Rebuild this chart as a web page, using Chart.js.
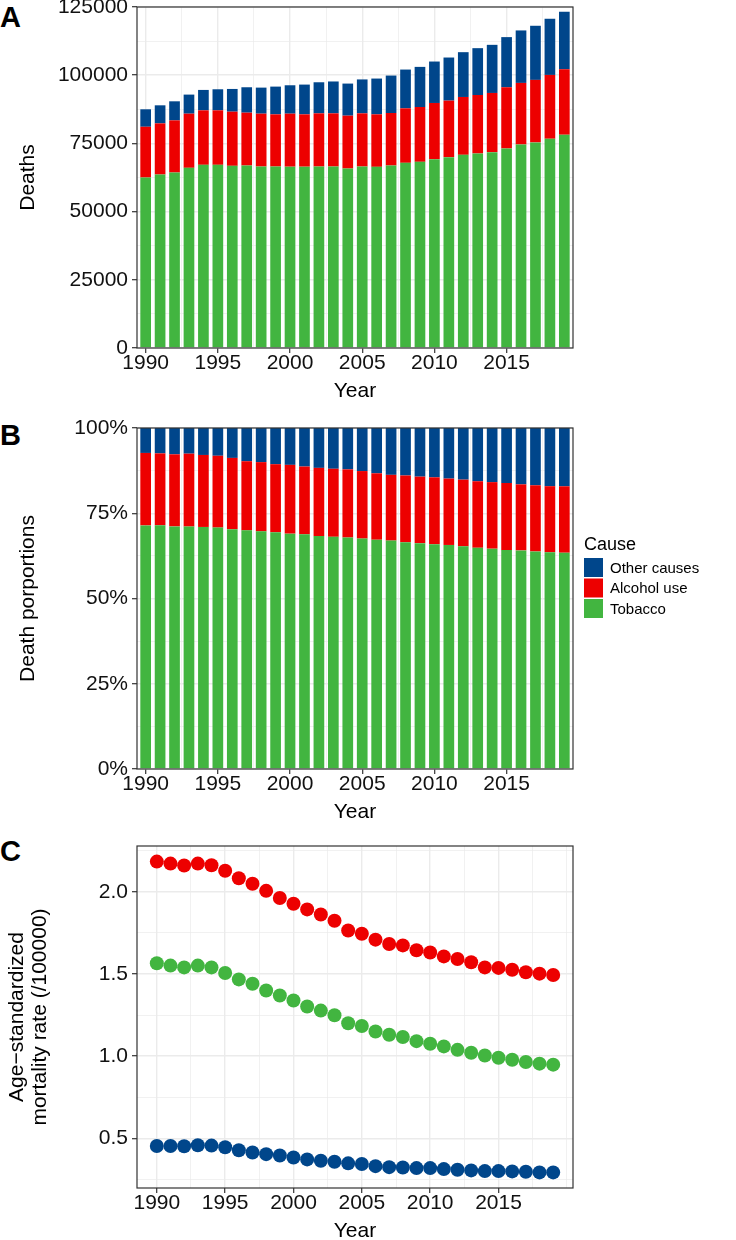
<!DOCTYPE html>
<html>
<head>
<meta charset="utf-8">
<script src="https://cdn.jsdelivr.net/npm/chart.js@4.4.1/dist/chart.umd.min.js"></script>
<style>
  html, body { margin: 0; padding: 0; background: #fff; overflow: hidden; }
  body { width: 736px; height: 1240px; position: relative; }
  .panel { position: absolute; left: 0; width: 736px; }
  .tag { position: absolute; left: 0; font: bold 29px/29px "Liberation Sans", Arial, sans-serif; color: #000; }
</style>
</head>
<body>
<div class="tag" style="top:3px">A</div>
<div class="tag" style="top:421px">B</div>
<div class="tag" style="top:837px">C</div>
<div class="panel" style="top:-10px;height:412px"><canvas id="deaths"></canvas></div>
<div class="panel" style="top:402px;height:421px"><canvas id="shares"></canvas></div>
<div class="panel" style="top:823px;height:419px"><canvas id="rates"></canvas></div>

<script>
// Data
const years = [1990, 1991, 1992, 1993, 1994, 1995, 1996, 1997, 1998, 1999,
               2000, 2001, 2002, 2003, 2004, 2005, 2006, 2007, 2008, 2009,
               2010, 2011, 2012, 2013, 2014, 2015, 2016, 2017, 2018, 2019];

const causes = ['Tobacco', 'Alcohol use', 'Other causes'];
const causeColours = ['#42B540', '#ED0000', '#00468B'];

// deaths by cause (panel A)
const tobaccoDeaths = [62500, 63600, 64330, 66050, 67150, 67150, 66780, 66900, 66530, 66530,
                       66470, 66470, 66530, 66530, 65800, 66530, 66410, 66900, 67880, 68250,
                       69230, 69960, 70820, 71310, 71800, 73150, 74620, 75360, 76710, 78180];
const alcoholDeaths = [18600, 18740, 19120, 19850, 19970, 19970, 19850, 19370, 19370, 19120,
                       19430, 19180, 19490, 19490, 19370, 19490, 19240, 19250, 19980, 20100,
                       20590, 20720, 21200, 21440, 21690, 22430, 22550, 22920, 23390, 24010];
const otherDeaths   = [6400, 6620, 6980, 6990, 7480, 7720, 8330, 9310, 9550, 10170,
                       10410, 10910, 11390, 11680, 11760, 12430, 13120, 13720, 14210, 14700,
                       15190, 15800, 16420, 17160, 17640, 18380, 19240, 19840, 20590, 21070];

// age-standardized mortality rate (panel C)
const tobaccoRate = [1.565, 1.551, 1.540, 1.551, 1.540, 1.506, 1.467, 1.440, 1.399, 1.369,
                     1.338, 1.302, 1.277, 1.249, 1.200, 1.183, 1.150, 1.130, 1.116, 1.091,
                     1.075, 1.059, 1.038, 1.020, 1.004, 0.990, 0.978, 0.964, 0.954, 0.948];
const alcoholRate = [2.184, 2.172, 2.160, 2.172, 2.162, 2.128, 2.083, 2.049, 2.006, 1.962,
                     1.927, 1.893, 1.862, 1.824, 1.765, 1.745, 1.709, 1.682, 1.674, 1.644,
                     1.631, 1.607, 1.591, 1.571, 1.540, 1.537, 1.526, 1.510, 1.502, 1.494];
const otherRate   = [0.453, 0.453, 0.451, 0.457, 0.455, 0.445, 0.427, 0.413, 0.403, 0.395,
                     0.383, 0.371, 0.363, 0.357, 0.347, 0.343, 0.330, 0.324, 0.322, 0.318,
                     0.318, 0.312, 0.308, 0.304, 0.300, 0.300, 0.298, 0.296, 0.292, 0.292];

// Tick labels
const yearTicks = [1990, 1995, 2000, 2005, 2010, 2015];
const deathTicks = [0, 25000, 50000, 75000, 100000, 125000];
const shareTicks = [0, 25, 50, 75, 100];
const rateTicks = [0.5, 1.0, 1.5, 2.0];

Chart.defaults.font.family = "'Liberation Sans', Arial, sans-serif";
Chart.defaults.color = '#111111';
Chart.defaults.animation = false;

// Functions
function tickList(majors, min, max) {
    const step = majors[1] - majors[0];
    const out = [];
    for (let v = majors[0] - step; v <= majors[majors.length - 1] + step + 1e-9; v += step / 2) {
        if (v >= min - 1e-9 && v <= max + 1e-9) out.push({ value: +v.toFixed(6) });
    }
    return out;
}

function buildAxis(cfg) {
    const isMajor = v => cfg.majors.some(m => Math.abs(m - v) < 1e-6);
    return {
        type: 'linear',
        min: cfg.min,
        max: cfg.max,
        stacked: !!cfg.stacked,
        offset: false,
        grid: {
            offset: false,
            color: '#EBEBEB',
            lineWidth: c => (c.tick && isMajor(c.tick.value)) ? 1.4 : 0.7,
            tickColor: c => (c.tick && isMajor(c.tick.value)) ? '#333333' : 'rgba(0,0,0,0)',
            tickWidth: 1.2,
            tickLength: 5
        },
        border: { display: false },
        ticks: {
            autoSkip: false,
            maxRotation: 0,
            minRotation: 0,
            padding: cfg.horizontal ? 0 : 4,
            color: '#111111',
            font: { size: 21, lineHeight: 1 },
            callback: v => isMajor(v) ? cfg.format(v) : ''
        },
        title: {
            display: true,
            text: cfg.title,
            color: '#000000',
            font: { size: 21, lineHeight: cfg.titleLine || 1 },
            padding: { top: cfg.titlePad || 0, bottom: 0 }
        },
        afterBuildTicks: s => { s.ticks = tickList(cfg.majors, cfg.min, cfg.max); },
        afterFit: s => {
            if (cfg.horizontal) s.height = 54; else s.width = 137;
            s.paddingTop = s.paddingBottom = s.paddingLeft = s.paddingRight = 0;
        }
    };
}

const panelBorder = {
    id: 'panelBorder',
    afterDatasetsDraw(chart) {
        const { ctx, chartArea: a } = chart;
        ctx.save();
        ctx.strokeStyle = '#333333';
        ctx.lineWidth = 1.2;
        ctx.strokeRect(a.left, a.top, a.right - a.left, a.bottom - a.top);
        ctx.restore();
    }
};

// legend for the cause colours, drawn beside panel B
const causeLegend = {
    id: 'causeLegend',
    afterDraw(chart) {
        const ctx = chart.ctx;
        const x = 584, titleBase = 148, keyTop = 156, keySize = 19, keyStep = 20.5;
        ctx.save();
        ctx.fillStyle = '#000000';
        ctx.textBaseline = 'alphabetic';
        ctx.font = "18px 'Liberation Sans', Arial, sans-serif";
        ctx.fillText('Cause', x, titleBase);
        ctx.font = "15px 'Liberation Sans', Arial, sans-serif";
        ctx.textBaseline = 'middle';
        chart.data.datasets.slice().reverse().forEach((ds, i) => {
            const y = keyTop + i * keyStep;
            ctx.fillStyle = ds.backgroundColor;
            ctx.fillRect(x, y, keySize, keySize);
            ctx.fillStyle = '#000000';
            ctx.fillText(ds.label, x + keySize + 7, y + keySize / 2 + 1);
        });
        ctx.restore();
    }
};

function points(values) {
    return years.map((yr, i) => ({ x: yr, y: values[i] }));
}

const deathSeries = [tobaccoDeaths, alcoholDeaths, otherDeaths];
const totals = years.map((_, i) => tobaccoDeaths[i] + alcoholDeaths[i] + otherDeaths[i]);

function barSets(series) {
    return series.map((vals, k) => ({
        label: causes[k],
        data: points(vals),
        backgroundColor: causeColours[k],
        borderWidth: 0,
        categoryPercentage: 1,
        barPercentage: 0.74
    }));
}

const yearAxis = (min, max, stacked) => buildAxis({
    horizontal: true, min, max, stacked, majors: yearTicks,
    format: v => String(v), title: 'Year'
});

// Panel A
new Chart(document.getElementById('deaths'), {
    type: 'bar',
    data: { datasets: barSets(deathSeries) },
    options: {
        responsive: true,
        maintainAspectRatio: false,
        layout: { padding: { top: 17, right: 163, bottom: 0, left: 0 } },
        plugins: { legend: { display: false }, tooltip: { enabled: false } },
        scales: {
            x: yearAxis(1989.4, 2019.6, true),
            y: buildAxis({ min: 0, max: 125000, stacked: true, majors: deathTicks,
                           format: v => String(v), title: 'Deaths', titlePad: 18 })
        }
    },
    plugins: [panelBorder]
});

// Panel B
const shareSeries = deathSeries.map(vals => vals.map((v, i) => v / totals[i] * 100));
new Chart(document.getElementById('shares'), {
    type: 'bar',
    data: { datasets: barSets(shareSeries) },
    options: {
        responsive: true,
        maintainAspectRatio: false,
        layout: { padding: { top: 26, right: 163, bottom: 0, left: 0 } },
        plugins: { legend: { display: false }, tooltip: { enabled: false } },
        scales: {
            x: yearAxis(1989.4, 2019.6, true),
            y: buildAxis({ min: 0, max: 100, stacked: true, majors: shareTicks,
                           format: v => v + '%', title: 'Death porportions', titlePad: 18 })
        }
    },
    plugins: [panelBorder, causeLegend]
});

// Panel C
const rateSeries = [tobaccoRate, alcoholRate, otherRate];
new Chart(document.getElementById('rates'), {
    type: 'scatter',
    data: {
        datasets: rateSeries.map((vals, k) => ({
            label: causes[k],
            data: points(vals),
            showLine: false,
            pointRadius: 7,
            pointBackgroundColor: causeColours[k],
            pointBorderColor: causeColours[k],
            pointBorderWidth: 0
        }))
    },
    options: {
        responsive: true,
        maintainAspectRatio: false,
        layout: { padding: { top: 23, right: 163, bottom: 0, left: 0 } },
        plugins: { legend: { display: false }, tooltip: { enabled: false } },
        scales: {
            x: yearAxis(1988.55, 2020.45, false),
            y: buildAxis({ min: 0.197, max: 2.279, majors: rateTicks,
                           format: v => v.toFixed(1),
                           title: ['Age\u2212standardized', 'mortality rate (/100000)'],
                           titleLine: 1.1, titlePad: 6 })
        }
    },
    plugins: [panelBorder]
});
</script>
</body>
</html>
